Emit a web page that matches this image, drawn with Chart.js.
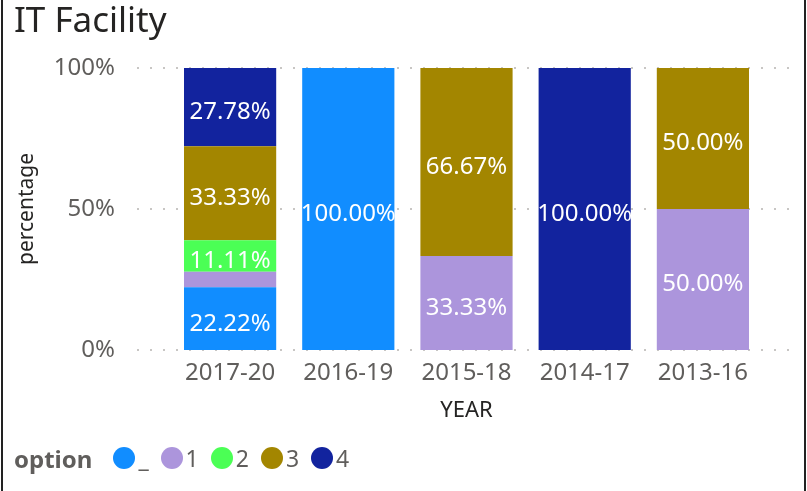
<!DOCTYPE html>
<html>
<head>
<meta charset="utf-8">
<script src="https://cdn.jsdelivr.net/npm/chart.js@4.4.1/dist/chart.umd.min.js"></script>
<style>
  html, body { margin: 0; padding: 0; background: #fff; }
  #wrap {
    position: relative; width: 807px; height: 491px; overflow: hidden;
    font-family: "Noto Sans", sans-serif;
  }
  #wrap:before, #wrap:after {
    content: ""; position: absolute; top: 0; bottom: 0; width: 2px; background: #222;
  }
  #wrap:before { left: 1px; }
  #wrap:after { left: 804px; }
  #title {
    position: absolute; left: 14px; top: -4px; font-size: 35px; color: #252423;
    line-height: 46px; white-space: nowrap;
  }
  #legend {
    position: absolute; left: 14px; top: 444px; height: 28px;
    display: flex; align-items: center; white-space: nowrap;
  }
  #legend .head { font-weight: bold; font-size: 24px; color: #605E5C; margin-right: 21px; }
  #legend .dot { width: 22px; height: 22px; border-radius: 50%; display: inline-block; }
  #legend .lab { font-size: 23px; color: #605E5C; margin-left: 3px; margin-right: 12px; }
  canvas { position: absolute; left: 0; top: 0; }
</style>
</head>
<body>
<div id="wrap">
  <canvas id="chart" width="807" height="491"></canvas>
  <div id="title">IT Facility</div>
  <div id="legend"><span class="head">option</span></div>
</div>
<script>
// categories (x axis)
const years = ["2017-20", "2016-19", "2015-18", "2014-17", "2013-16"];

// series names + colours (bottom of stack first)
const options = ["_", "1", "2", "3", "4"];
const colors = ["#118DFF", "#AC95DC", "#4BFF55", "#A38600", "#12239E"];

// percentage per year for each option
const optUnderscore = [22.22, 100, 0, 0, 0];
const opt1 = [5.56, 0, 33.33, 0, 50];
const opt2 = [11.11, 0, 0, 0, 0];
const opt3 = [33.33, 0, 66.67, 0, 50];
const opt4 = [27.78, 0, 0, 100, 0];

const yTicks = [0, 50, 100];

const seriesValues = [optUnderscore, opt1, opt2, opt3, opt4];

// html legend
const legendEl = document.getElementById("legend");
options.forEach(function (name, i) {
  const dot = document.createElement("span");
  dot.className = "dot";
  dot.style.background = colors[i];
  const lab = document.createElement("span");
  lab.className = "lab";
  lab.textContent = name;
  legendEl.appendChild(dot);
  legendEl.appendChild(lab);
});

// dotted gridlines reaching past the plot, like power bi
const dotGrid = {
  id: "dotGrid",
  beforeDatasetsDraw: function (chart) {
    const ctx = chart.ctx;
    const area = chart.chartArea;
    const y = chart.scales.y;
    ctx.save();
    ctx.strokeStyle = "#C8C6C4";
    ctx.lineWidth = 2;
    ctx.setLineDash([2, 11]);
    yTicks.forEach(function (t) {
      const py = Math.round(y.getPixelForValue(t));
      ctx.beginPath();
      ctx.moveTo(area.left - 34, py);
      ctx.lineTo(area.right + 36, py);
      ctx.stroke();
    });
    ctx.restore();
  }
};

// white value labels inside the segments
const valueLabels = {
  id: "valueLabels",
  afterDatasetsDraw: function (chart) {
    const ctx = chart.ctx;
    ctx.save();
    ctx.fillStyle = "#ffffff";
    ctx.font = "24px 'Noto Sans'";
    ctx.textAlign = "center";
    ctx.textBaseline = "middle";
    chart.data.datasets.forEach(function (ds, di) {
      const meta = chart.getDatasetMeta(di);
      meta.data.forEach(function (bar, i) {
        const v = ds.data[i];
        if (!v || v < 8) return;
        const mid = (bar.y + bar.base) / 2;
        ctx.fillText(v.toFixed(2) + "%", bar.x, mid + 5);
      });
    });
    ctx.restore();
  }
};

new Chart(document.getElementById("chart"), {
  type: "bar",
  data: {
    labels: years,
    datasets: options.map(function (name, i) {
      return {
        label: name,
        data: seriesValues[i],
        backgroundColor: colors[i],
        borderWidth: 0,
        categoryPercentage: 1,
        barPercentage: 0.78
      };
    })
  },
  options: {
    responsive: false,
    animation: false,
    layout: { padding: { left: 0, right: 45, top: 68, bottom: 61 } },
    plugins: {
      legend: { display: false },
      tooltip: { enabled: false }
    },
    scales: {
      x: {
        stacked: true,
        grid: { display: false, drawTicks: false },
        border: { display: false },
        ticks: { color: "#605E5C", font: { family: "Noto Sans", size: 24 }, padding: 9, maxRotation: 0 },
        title: {
          display: true, text: "YEAR", color: "#252423",
          font: { family: "Noto Sans", size: 22 }, padding: { top: 0, bottom: 6 }
        },
        afterFit: function (scale) { scale.height = 80; }
      },
      y: {
        stacked: true,
        min: 0,
        max: 100,
        grid: { display: false, drawTicks: false },
        border: { display: false },
        afterBuildTicks: function (scale) {
          scale.ticks = yTicks.map(function (v) { return { value: v }; });
        },
        ticks: {
          color: "#605E5C", font: { family: "Noto Sans", size: 24 }, padding: 56,
          callback: function (v) { return v + "%"; }
        },
        title: {
          display: true, text: "percentage", color: "#252423",
          font: { family: "Noto Sans", size: 21 }, padding: { top: 14, bottom: 0 }
        },
        afterFit: function (scale) {
          scale.width = 171;
          // tick padding would otherwise push the plot down
          scale.paddingTop = 0;
          scale.paddingBottom = 0;
        }
      }
    }
  },
  plugins: [dotGrid, valueLabels]
});
</script>
</body>
</html>
